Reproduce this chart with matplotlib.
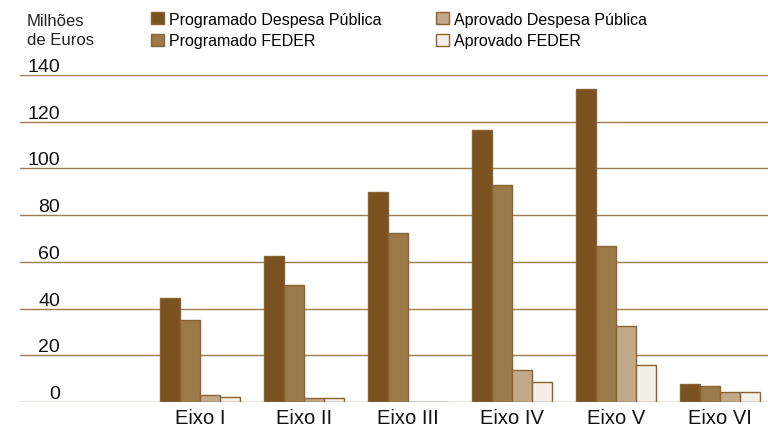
import numpy as np
import matplotlib
matplotlib.use("Agg")
import matplotlib.pyplot as plt

plt.rcParams['font.family'] = ['Liberation Sans', 'DejaVu Sans']

eixos = ["Eixo I", "Eixo II", "Eixo III", "Eixo IV", "Eixo V", "Eixo VI"]
prog_dp = [44.5, 62.5, 90.0, 116.5, 134.0, 7.7]
prog_feder = [35.0, 50.0, 72.5, 93.0, 67.0, 6.8]
aprov_dp = [3.0, 1.8, 0, 13.8, 32.5, 4.3]
aprov_feder = [2.0, 1.8, 0, 8.6, 15.8, 4.3]
yticks = [0, 20, 40, 60, 80, 100, 120, 140]

series = [
    ("Programado Despesa Pública", prog_dp, "#7b521f"),
    ("Programado FEDER", prog_feder, "#9b7a4a"),
    ("Aprovado Despesa Pública", aprov_dp, "#c1a98a"),
    ("Aprovado FEDER", aprov_feder, "#f3efe7"),
]
edge = "#8a6331"
grid_col = "#9c7c52"

fig = plt.figure(figsize=(7.68, 4.27), dpi=100)
ax = fig.add_axes([20 / 768, 24 / 427, 748 / 768, 327 / 427])

x = np.arange(len(eixos))
w = 0.1923
handles = []
for k, (name, vals, col) in enumerate(series):
    b = ax.bar(x + (k - 1.5) * w, vals, width=w, color=col, edgecolor=edge,
               linewidth=1.0, zorder=3, label=name)
    handles.append(b)

for t in yticks:
    ax.axhline(t, color=grid_col, linewidth=1.0, zorder=1)
    ax.text(40 / 748, t, str(t), transform=ax.get_yaxis_transform(),
            ha="right", va="bottom", fontsize=14, color="#111111")

ax.set_ylim(0, 140)
ax.set_xlim(-1.731, 5.462)
ax.set_yticks([])
ax.set_xticks(x)
ax.set_xticklabels(eixos, fontsize=14.5, color="#111111")
ax.tick_params(axis="x", length=0, pad=4)
for s in ax.spines.values():
    s.set_visible(False)

fig.text(27 / 768, 1 - 31 / 427, "Milhões\nde Euros", ha="left", va="center",
         fontsize=12, linespacing=1.35, color="#222222")

fig.legend(handles=handles, loc="center left", bbox_to_anchor=(143 / 768, 1 - 31 / 427),
           ncol=2, frameon=False, fontsize=11.5, handlelength=0.8, handleheight=0.8,
           handletextpad=0.3, columnspacing=3.45, labelspacing=0.4, borderpad=0)

fig.savefig("out.png", dpi=100)
